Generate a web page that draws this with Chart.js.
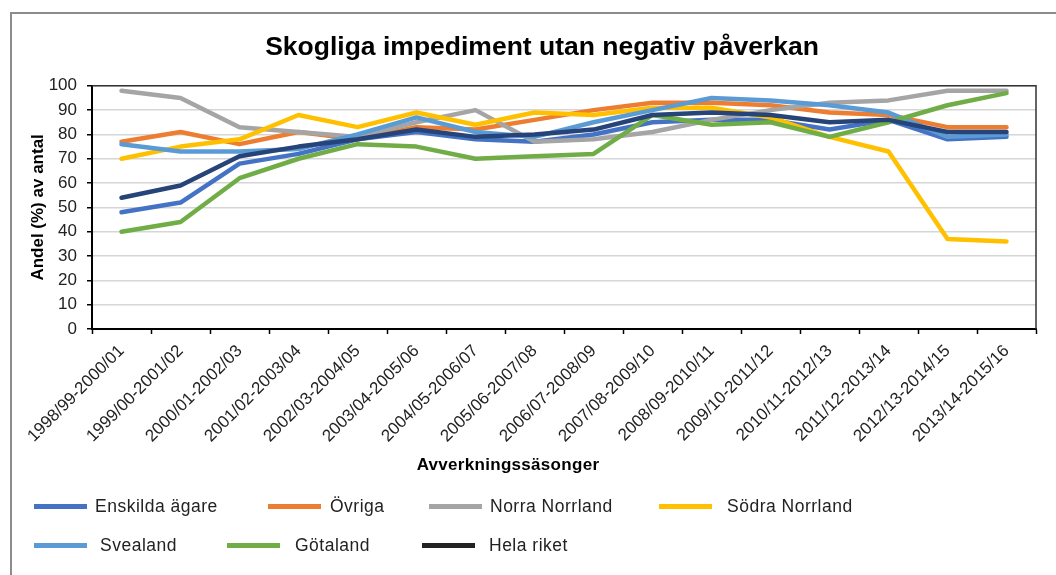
<!DOCTYPE html>
<html>
<head>
<meta charset="utf-8">
<script src="https://cdn.jsdelivr.net/npm/chart.js@4.4.0/dist/chart.umd.min.js"></script>
<style>
  html, body { margin: 0; padding: 0; background: #fff; }
  body { width: 1056px; height: 575px; position: relative; overflow: hidden;
         font-family: "Liberation Sans", Arial, sans-serif; }
  #frame { position: absolute; left: 10px; top: 12px; width: 1100px; height: 700px;
           border: 2px solid #8c8c8c; box-sizing: border-box; }
  #myChart { position: absolute; left: 0; top: 0; }
  #xtitle { position: absolute; left: 408px; width: 200px; top: 455px; text-align: center;
            font-size: 17px; font-weight: bold; color: #000; letter-spacing: 0.3px; }
  .item { position: absolute; height: 20px; display: flex; align-items: center;
          font-size: 17.5px; color: #222; white-space: nowrap; letter-spacing: 0.5px; }
  .swatch { width: 53px; height: 5px; }
</style>
</head>
<body>
<div id="frame"></div>
<canvas id="myChart" width="1056" height="575"></canvas>
<div id="xtitle">Avverkningssäsonger</div>
<div id="legend"></div>
<script>
// seasons on the x axis
const seasons = ['1998/99-2000/01', '1999/00-2001/02', '2000/01-2002/03', '2001/02-2003/04',
  '2002/03-2004/05', '2003/04-2005/06', '2004/05-2006/07', '2005/06-2007/08',
  '2006/07-2008/09', '2007/08-2009/10', '2008/09-2010/11', '2009/10-2011/12',
  '2010/11-2012/13', '2011/12-2013/14', '2012/13-2014/15', '2013/14-2015/16'];

const enskilda = [48, 52, 68, 72, 78, 81, 78, 77, 80, 85, 86, 86, 82, 86, 78, 79];
const ovriga   = [77, 81, 76, 81, 78, 83, 82, 86, 90, 93, 93, 92, 89, 88, 83, 83];
const norra    = [98, 95, 83, 81, 79, 85, 90, 77, 78, 81, 86, 90, 93, 94, 98, 98];
const sodra    = [70, 75, 78, 88, 83, 89, 84, 89, 88, 91, 91, 87, 79, 73, 37, 36];
const svealand = [76, 73, 73, 74, 80, 87, 81, 79, 85, 90, 95, 94, 92, 89, 79, 80];
const gotaland = [40, 44, 62, 70, 76, 75, 70, 71, 72, 88, 84, 85, 79, 85, 92, 97];
const hela     = [54, 59, 71, 75, 78, 82, 79, 80, 82, 88, 89, 88, 85, 86, 81, 81];

const seriesNames = ['Enskilda ägare', 'Övriga', 'Norra Norrland', 'Södra Norrland',
  'Svealand', 'Götaland', 'Hela riket'];
const seriesData = [enskilda, ovriga, norra, sodra, svealand, gotaland, hela];
const lineColors = ['#4472C4', '#ED7D31', '#A5A5A5', '#FFC000', '#5B9BD5', '#70AD47', '#264478'];
const legendColors = ['#4472C4', '#ED7D31', '#A5A5A5', '#FFC000', '#5B9BD5', '#70AD47', '#222222'];

const yTicks = [0, 10, 20, 30, 40, 50, 60, 70, 80, 90, 100];

// legend slots (swatch left, text gap, row centre)
const legendSlots = [
  [34, 8, 506], [268, 9, 506], [429, 8, 506], [659, 15, 506],
  [34, 13, 545], [227, 15, 545], [422, 14, 545]
];

const plotFrame = {
  id: 'plotFrame',
  beforeDatasetsDraw(chart) {
    const { ctx, chartArea: a } = chart;
    ctx.save();
    ctx.strokeStyle = '#333';
    ctx.lineWidth = 1.5;
    ctx.beginPath();
    ctx.moveTo(a.left, a.top);
    ctx.lineTo(a.right, a.top);
    ctx.lineTo(a.right, a.bottom);
    ctx.stroke();
    ctx.restore();
  }
};

const font = 'Liberation Sans, Arial, sans-serif';

var ctx = document.getElementById('myChart');
var myChart = new Chart(ctx, {
  type: 'line',
  data: {
    labels: seasons,
    datasets: seriesNames.map((name, i) => ({
      label: name,
      data: seriesData[i],
      borderColor: lineColors[i],
      backgroundColor: lineColors[i],
      borderWidth: 4.5,
      borderCapStyle: 'round',
      borderJoinStyle: 'round',
      pointRadius: 0,
      tension: 0,
      fill: false,
      order: seriesNames.length - i
    }))
  },
  options: {
    responsive: false,
    animation: false,
    devicePixelRatio: 1,
    layout: { padding: { left: 48, right: 20, top: 0, bottom: 95 } },
    scales: {
      x: {
        offset: true,
        grid: { offset: true, drawOnChartArea: false, tickLength: 5, tickColor: '#000', tickWidth: 1.5 },
        border: { color: '#000', width: 2 },
        ticks: { autoSkip: false, minRotation: 45, maxRotation: 45, padding: 7,
                 color: '#222', font: { family: font, size: 17 } },
        afterFit(scale) { scale.height = 151; }
      },
      y: {
        min: 0,
        max: 100,
        afterBuildTicks(scale) { scale.ticks = yTicks.map(v => ({ value: v })); },
        grid: { color: '#d6d6d6', lineWidth: 1.5, tickLength: 5, tickColor: '#000', tickWidth: 1.5 },
        border: { color: '#000', width: 2 },
        ticks: { padding: 10, color: '#222', font: { family: font, size: 17 } },
        title: { display: true, text: 'Andel (%) av antal', color: '#000',
                 font: { family: font, size: 17, weight: 'bold' }, padding: { top: -20, bottom: 0 } },
        afterFit(scale) { scale.width = 44; }
      }
    },
    plugins: {
      legend: { display: false },
      tooltip: { enabled: false },
      title: {
        display: true,
        text: 'Skogliga impediment utan negativ påverkan',
        color: '#000',
        font: { family: font, size: 26.5, weight: 'bold' },
        padding: { top: 32, bottom: 22 }
      }
    }
  },
  plugins: [plotFrame]
});

// legend
const legend = document.getElementById('legend');
seriesNames.forEach((name, i) => {
  const [x, gap, cy] = legendSlots[i];
  const item = document.createElement('div');
  item.className = 'item';
  item.style.left = x + 'px';
  item.style.top = (cy - 10) + 'px';
  const sw = document.createElement('span');
  sw.className = 'swatch';
  sw.style.background = legendColors[i];
  sw.style.marginRight = gap + 'px';
  const tx = document.createElement('span');
  tx.textContent = name;
  item.appendChild(sw);
  item.appendChild(tx);
  legend.appendChild(item);
});
</script>
</body>
</html>
